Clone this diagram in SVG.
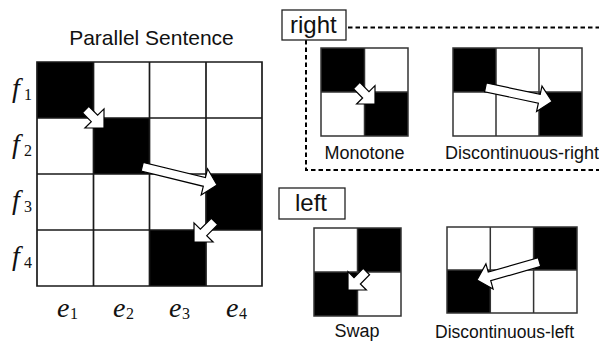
<svg xmlns="http://www.w3.org/2000/svg" width="599" height="345" viewBox="0 0 599 345">
<style>
.t{font-family:"Liberation Sans",Arial,sans-serif;fill:#111}
.m{font-family:"Liberation Serif","Times New Roman",serif;font-style:italic;font-size:28px;fill:#111}
.s{font-family:"Liberation Serif","Times New Roman",serif;font-size:16px;fill:#111}
.g{fill:none;stroke:#1a1a1a;stroke-width:1.7}
.gs{fill:none;stroke:#333;stroke-width:1.5}
.b{fill:#000}
.arr{fill:#fff;stroke:#000;stroke-width:1.2;stroke-linejoin:miter}
.d{fill:none;stroke:#000;stroke-width:2;stroke-dasharray:4.5 3}
.lbl{fill:#fff;stroke:#222;stroke-width:1.3}
</style>
<rect width="599" height="345" fill="#fff"/>

<g id="parallel-sentence">
  <text class="t" x="151.5" y="45" font-size="21" text-anchor="middle">Parallel Sentence</text>
  <rect class="b" x="37" y="62" width="56.5" height="56"/>
  <rect class="b" x="93.5" y="118" width="56" height="56"/>
  <rect class="b" x="206" y="174" width="56" height="56"/>
  <rect class="b" x="149.5" y="230" width="56.5" height="56"/>
  <path class="g" d="M37,62H262V286H37Z M93.5,62V286 M149.5,62V286 M206,62V286 M37,118H262 M37,174H262 M37,230H262"/>
  <text class="m" x="12" y="97">f</text><text class="s" x="24" y="100">1</text>
  <text class="m" x="12" y="153">f</text><text class="s" x="24" y="156">2</text>
  <text class="m" x="12" y="209">f</text><text class="s" x="24" y="212">3</text>
  <text class="m" x="12" y="265">f</text><text class="s" x="24" y="268">4</text>
  <text class="m" x="57" y="317">e</text><text class="s" x="70" y="319">1</text>
  <text class="m" x="113" y="317">e</text><text class="s" x="126" y="319">2</text>
  <text class="m" x="169" y="317">e</text><text class="s" x="182" y="319">3</text>
  <text class="m" x="226" y="317">e</text><text class="s" x="239" y="319">4</text>
</g>

<g id="right-group">
  <path class="d" d="M348,27.5H599 M306,40V170H599"/>
  <rect class="lbl" x="282" y="10" width="64" height="30"/>
  <text class="t" x="290" y="33" font-size="24">right</text>
</g>

<g id="monotone">
  <rect class="b" x="321" y="48" width="43.5" height="44"/>
  <rect class="b" x="364.5" y="92" width="43.5" height="44"/>
  <path class="gs" d="M321,48H408V136H321Z M364.5,48V136 M321,92H408"/>
  <text class="t" x="364.5" y="159" font-size="18" text-anchor="middle">Monotone</text>
</g>

<g id="discontinuous-right">
  <rect class="b" x="453" y="48" width="43" height="44"/>
  <rect class="b" x="539" y="92" width="43" height="44"/>
  <path class="gs" d="M453,48H582V136H453Z M496,48V136 M539,48V136 M453,92H582"/>
  <text class="t" x="445" y="159" font-size="18">Discontinuous-right</text>
</g>

<g id="left-group">
  <rect class="lbl" x="279" y="188" width="66" height="31"/>
  <text class="t" x="295" y="211" font-size="24">left</text>
</g>

<g id="swap">
  <rect class="b" x="357.5" y="228" width="43.5" height="44"/>
  <rect class="b" x="314" y="272" width="43.5" height="44"/>
  <path class="gs" d="M314,228H401V316H314Z M357.5,228V316 M314,272H401"/>
  <text class="t" x="357" y="337" font-size="18" text-anchor="middle">Swap</text>
</g>

<g id="discontinuous-left">
  <rect class="b" x="533.6" y="227" width="43.4" height="43"/>
  <rect class="b" x="447" y="270" width="43.3" height="43"/>
  <path class="gs" d="M447,227H577V313H447Z M490.3,227V313 M533.6,227V313 M447,270H577"/>
  <text class="t" x="435" y="338" font-size="17.5">Discontinuous-left</text>
</g>

<g id="connectors">
  <path class="arr" transform="translate(104,128) rotate(45)" d="M0,0L-13.5,-13.5V-4.5H-26V4.5H-13.5V13.5Z"/>
  <path class="arr" transform="translate(217,185) rotate(13.7)" d="M0,0L-13,-13.5V-4.5H-77V4.5H-13V13.5Z"/>
  <path class="arr" transform="translate(194,242) rotate(135)" d="M0,0L-13.5,-13.5V-4.5H-29V4.5H-13.5V13.5Z"/>
  <path class="arr" transform="translate(375,104) rotate(45)" d="M0,0L-13,-13V-4.5H-26V4.5H-13V13Z"/>
  <path class="arr" transform="translate(552,101.5) rotate(12)" d="M0,0L-13,-13V-4.5H-68V4.5H-13V13Z"/>
  <path class="arr" transform="translate(348,290) rotate(135)" d="M0,0L-13,-13V-4.5H-26V4.5H-13V13Z"/>
  <path class="arr" transform="translate(477,280) rotate(164)" d="M0,0L-13,-13V-4.5H-65V4.5H-13V13Z"/>
</g>
</svg>
